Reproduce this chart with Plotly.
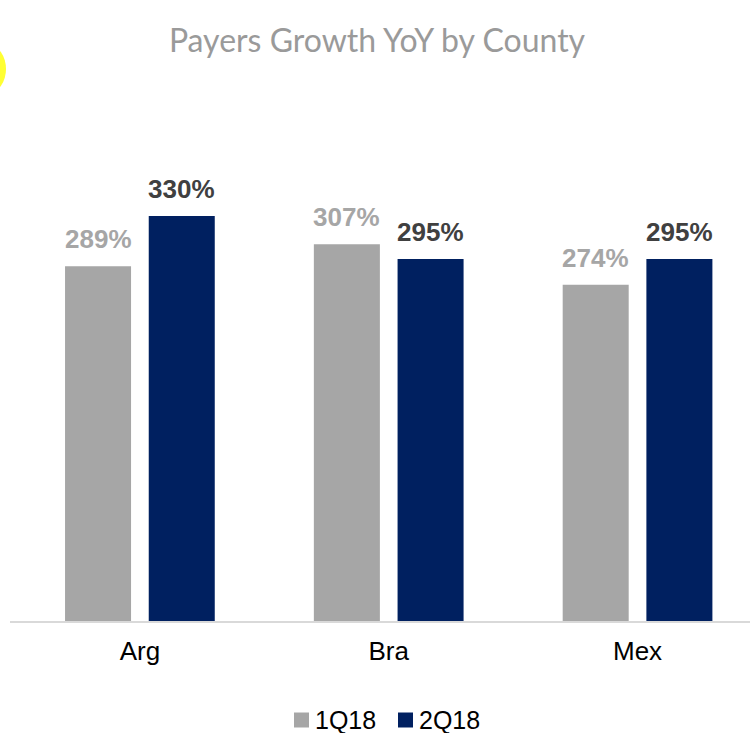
import plotly.graph_objects as go

categories = ["Arg", "Bra", "Mex"]
series_names = ["1Q18", "2Q18"]
values_1q18 = [289, 307, 274]
values_2q18 = [330, 295, 295]
title_text = "Payers Growth YoY by County"

W, H = 750, 733
ML, MR, MT, MB = 10, 0, 100, 112
PW, PH = W - ML - MR, H - MT - MB


def px_x(px):
    return (px - ML) / PW


def px_y(py):
    return (H - MB - py) / PH


GRAY = "#A6A6A6"
NAVY = "#002060"
LABEL_DARK = "#404040"

bar_w = 0.2653
offsets = [-0.3008, 0.0356]
colors = [GRAY, NAVY]
label_colors = [GRAY, LABEL_DARK]
series_vals = [values_1q18, values_2q18]

fig = go.Figure()
xs = list(range(len(categories)))
for name, vals, off, col in zip(series_names, series_vals, offsets, colors):
    fig.add_trace(go.Bar(
        x=xs, y=vals, name=name, width=bar_w, offset=off,
        marker=dict(color=col, line=dict(width=0)),
        hoverinfo="skip", showlegend=False,
    ))

annotations = []
for vals, off, lc in zip(series_vals, offsets, label_colors):
    for i, v in enumerate(vals):
        annotations.append(dict(
            x=i + off + bar_w / 2, y=v, xref="x", yref="y",
            text=f"<b>{v}%</b>", showarrow=False,
            yanchor="bottom", xanchor="center", yshift=10,
            font=dict(family="Liberation Sans, Arial", size=26, color=lc),
        ))

# manual legend (below the plot)
legend_items = [(294, 316), (398, 420)]
LEG_Y = 720
shapes = []
for (sq_x, tx_x), name, col in zip(legend_items, series_names, colors):
    shapes.append(dict(type="rect", xref="paper", yref="paper",
                       x0=px_x(sq_x), x1=px_x(sq_x + 15),
                       y0=px_y(LEG_Y + 7.5), y1=px_y(LEG_Y - 7.5),
                       fillcolor=col, line=dict(width=0)))
    annotations.append(dict(x=px_x(tx_x - 2), y=px_y(LEG_Y), xref="paper", yref="paper",
                            text=name, showarrow=False, xanchor="left", yanchor="middle",
                            borderpad=0,
                            font=dict(family="Liberation Sans, Arial", size=25,
                                      color="#000000")))

shapes.append(dict(type="circle", xref="paper", yref="paper",
                   x0=px_x(-26), x1=px_x(6), y0=px_y(92), y1=px_y(46),
                   fillcolor="#FFFF33", line=dict(width=0), layer="above"))

fig.update_layout(
    width=W, height=H,
    margin=dict(l=ML, r=MR, t=MT, b=MB, pad=0),
    paper_bgcolor="white", plot_bgcolor="white",
    title=dict(text=title_text, x=377 / W, xanchor="center", y=1 - 41 / H,
               yanchor="middle", yref="container", xref="container",
               font=dict(family="Lato", size=32, color="#9A9A9A")),
    xaxis=dict(range=[-0.522, 2.452], tickmode="array", tickvals=xs,
               ticktext=categories, showline=True, linecolor="#D9D9D9",
               linewidth=2, showgrid=False, zeroline=False, ticks="",
               tickfont=dict(family="Liberation Sans, Arial", size=26, color="#000000"),
               ticklabelstandoff=6, fixedrange=True),
    yaxis=dict(range=[0, 424.5], visible=False, showgrid=False, zeroline=False,
               fixedrange=True),
    barmode="overlay",
    showlegend=False,
    annotations=annotations,
    shapes=shapes,
)

fig.write_html("out.html", config={"displayModeBar": False},
               post_script="document.body.style.margin='0px';document.body.style.padding='0px';")
